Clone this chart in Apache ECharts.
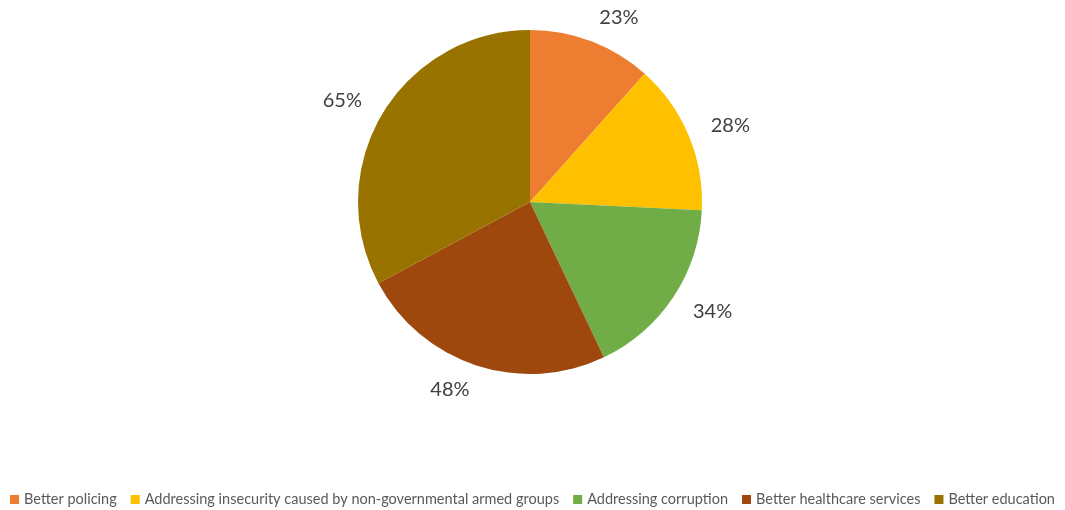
<!DOCTYPE html>
<html>
<head>
<meta charset="utf-8">
<script src="https://cdn.jsdelivr.net/npm/echarts@6/dist/echarts.min.js"></script>
<style>
  html, body { margin: 0; padding: 0; background: #ffffff; }
  #chart { width: 1065px; height: 510px; }
</style>
</head>
<body>
<div id="chart"></div>
<script>
// Share of respondents naming each priority (%)
const categories = [
  'Better policing',
  'Addressing insecurity caused by non-governmental armed groups',
  'Addressing corruption',
  'Better healthcare services',
  'Better education'
];
const values = [23, 28, 34, 48, 65];
const colors = ['#ED7D31', '#FFC000', '#70AD47', '#9E480E', '#997300'];

const chart = echarts.init(document.getElementById('chart'), null, { renderer: 'canvas' });

chart.setOption({
  animation: false,
  color: colors,
  textStyle: { fontFamily: 'Lato, "Liberation Sans", sans-serif' },
  legend: {
    data: categories,
    left: 'center',
    top: 487,
    icon: 'rect',
    itemWidth: 9,
    itemHeight: 9,
    itemGap: 14,
    textStyle: { fontSize: 14.5, color: '#595959', fontFamily: 'Lato, sans-serif' }
  },
  series: [{
    type: 'pie',
    center: [530, 202],
    radius: 172,
    startAngle: 90,
    clockwise: true,
    avoidLabelOverlap: false,
    data: categories.map((name, i) => ({ name, value: values[i] })),
    itemStyle: { borderWidth: 0 },
    label: {
      show: true,
      position: 'outside',
      formatter: '{c}%',
      fontSize: 20,
      color: '#404040',
      fontFamily: 'Lato, sans-serif',
      distanceToLabelLine: -1
    },
    labelLine: { show: false, length: 25, length2: 0 },
    emphasis: { disabled: true }
  }]
});
</script>
</body>
</html>
